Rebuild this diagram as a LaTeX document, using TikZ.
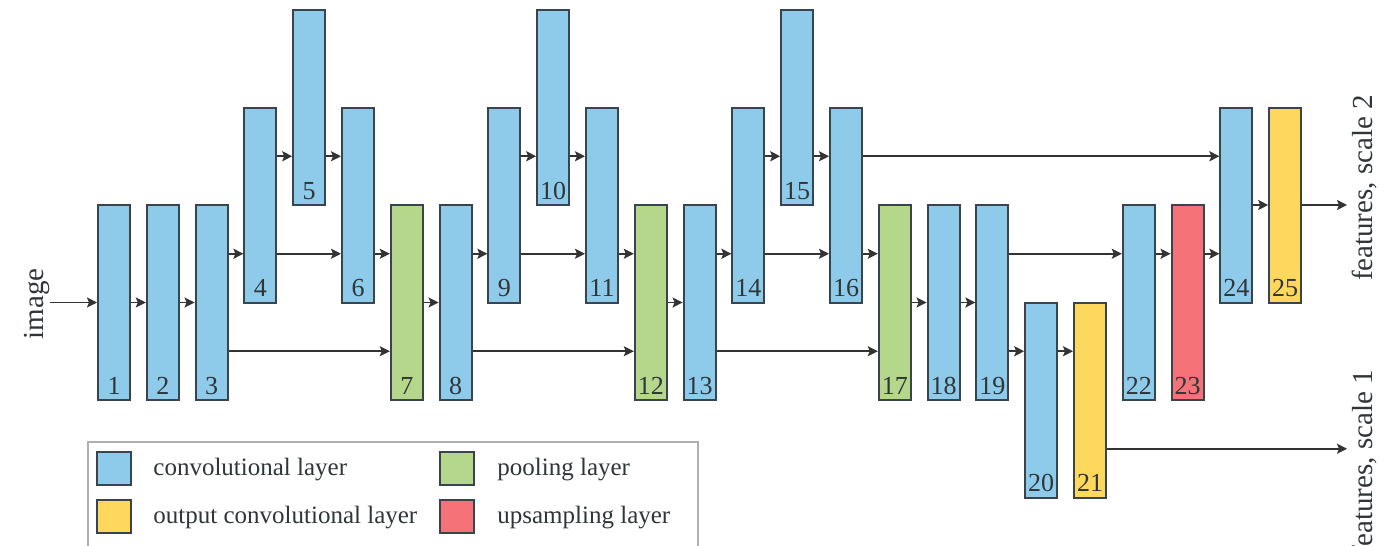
\documentclass[tikz,border=0pt]{standalone}
\usepackage{fontspec}
\setmainfont{Liberation Serif}
\usetikzlibrary{arrows.meta}
\definecolor{cblue}{HTML}{8ECAE9}
\definecolor{cgreen}{HTML}{B4D78B}
\definecolor{cyellow}{HTML}{FDD85D}
\definecolor{cred}{HTML}{F47278}
\definecolor{bord}{HTML}{3A444C}
\definecolor{lc}{HTML}{333333}
\definecolor{txt}{HTML}{303638}
\definecolor{legc}{HTML}{B0B0B0}
\newcommand\conn[3]{\draw[arr] (#1.east |- #3) -- (#2.west |- #3);}
\begin{document}
\begin{tikzpicture}[x=0.5pt,y=-0.5pt,
  font=\fontsize{12.5pt}{15pt}\selectfont,
  box/.style={draw=bord, line width=1pt, minimum width=16pt, minimum height=97.5pt, inner sep=0pt},
  conv/.style={box, fill=cblue},
  pool/.style={box, fill=cgreen},
  outc/.style={box, fill=cyellow},
  upsm/.style={box, fill=cred},
  swatch/.style={minimum width=17pt, minimum height=16.5pt},
  num/.style={anchor=base, text=txt, inner sep=0pt, font=\fontsize{13pt}{15pt}\selectfont},
  lbl/.style={text=txt, inner sep=0pt},
  side/.style={lbl, rotate=90, font=\fontsize{14.5pt}{17pt}\selectfont},
  arr/.style={draw=lc, line width=0.9pt, -{Stealth[length=5pt,width=5pt,inset=1pt]}}]
\useasboundingbox (0,0) rectangle (1398,546);
\fill[white] (0,0) rectangle (1398,546);
% heights of connectors
\coordinate (yA) at (0,156.25);
\coordinate (yB) at (0,205);
\coordinate (yC) at (0,253.75);
\coordinate (yD) at (0,302.5);
\coordinate (yE) at (0,351.25);
\coordinate (yF) at (0,448.75);
% layers
\foreach \i/\lv/\st in {1/302.5/conv,2/302.5/conv,3/302.5/conv,4/205/conv,5/107.5/conv,
  6/205/conv,7/302.5/pool,8/302.5/conv,9/205/conv,10/107.5/conv,11/205/conv,
  12/302.5/pool,13/302.5/conv,14/205/conv,15/107.5/conv,16/205/conv,17/302.5/pool,
  18/302.5/conv,19/302.5/conv,20/400/conv,21/400/outc,22/302.5/conv,23/302.5/upsm,
  24/205/conv,25/205/outc}{
  \node[\st] (n\i) at ({114+(\i-1)*48.8},\lv) {};
  \node[num] (t\i) at ([yshift=3.5pt]n\i.south) {\i};
}
% input / outputs
\coordinate (in) at (50,302.5);
\coordinate (o1) at (1347,448.75);
\coordinate (o2) at (1347,205);
\node[side] (limg) at (37,304) {image};
\node[side] (lf2) at (1365,188) {features, scale 2};
\node[side] (lf1) at (1365,463) {features, scale 1};
% connectors
\draw[arr] (in) -- (n1.west |- yD);
\conn{n1}{n2}{yD}
\conn{n2}{n3}{yD}
\conn{n3}{n4}{yC}
\conn{n4}{n5}{yA}
\conn{n5}{n6}{yA}
\conn{n4}{n6}{yC}
\conn{n6}{n7}{yC}
\conn{n3}{n7}{yE}
\conn{n7}{n8}{yD}
\conn{n8}{n9}{yC}
\conn{n9}{n10}{yA}
\conn{n10}{n11}{yA}
\conn{n9}{n11}{yC}
\conn{n11}{n12}{yC}
\conn{n8}{n12}{yE}
\conn{n12}{n13}{yD}
\conn{n13}{n14}{yC}
\conn{n14}{n15}{yA}
\conn{n15}{n16}{yA}
\conn{n14}{n16}{yC}
\conn{n16}{n17}{yC}
\conn{n13}{n17}{yE}
\conn{n17}{n18}{yD}
\conn{n18}{n19}{yD}
\conn{n19}{n20}{yE}
\conn{n20}{n21}{yE}
\conn{n19}{n22}{yC}
\conn{n22}{n23}{yC}
\conn{n23}{n24}{yC}
\conn{n16}{n24}{yA}
\conn{n24}{n25}{yB}
\draw[arr] (n21.east |- yF) -- (o1);
\draw[arr] (n25.east |- yB) -- (o2);
% legend
\draw[legc, line width=1pt] (88,560) -- (88,442) -- (698,442) -- (698,560);
\node[conv, swatch] (s1) at (114,468.5) {};
\node[outc, swatch] (s2) at (114,516.5) {};
\node[pool, swatch] (s3) at (456.5,468.5) {};
\node[upsm, swatch] (s4) at (456.5,516.5) {};
\node[lbl, anchor=base west] (g1) at (153,475) {convolutional layer};
\node[lbl, anchor=base west] (g2) at (153,523) {output convolutional layer};
\node[lbl, anchor=base west] (g3) at (497,475) {pooling layer};
\node[lbl, anchor=base west] (g4) at (497,523) {upsampling layer};
\end{tikzpicture}
\end{document}
